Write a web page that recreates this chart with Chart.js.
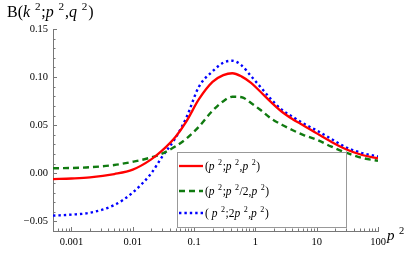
<!DOCTYPE html>
<html lang="en">
<head>
    <meta charset="UTF-8">
    <title>B(k²;p²,q²)</title>
    <script src="https://cdn.jsdelivr.net/npm/chart.js"></script>
    <style>
        body {
            margin: 0;
            padding: 0;
            background: white;
        }
        canvas {
            display: block;
        }
    </style>
</head>
<body>
    <canvas id="bChart" width="407" height="254"></canvas>

    <script>
        // Values
        const p2Values = [0.0005, 0.001, 0.002, 0.005, 0.01, 0.02, 0.03, 0.05, 0.075, 0.12, 0.2, 0.3, 0.42, 0.6, 0.85, 1.2, 1.8, 2.7, 4, 6, 10, 17, 30, 55, 100];
        const redSeries = [-0.006, -0.0054, -0.0043, -0.0008, 0.0038, 0.0145, 0.0235, 0.038, 0.054, 0.077, 0.095, 0.102, 0.104, 0.1005, 0.094, 0.085, 0.074, 0.064, 0.0565, 0.050, 0.0415, 0.033, 0.025, 0.019, 0.0156];
        const greenSeries = [0.0052, 0.0055, 0.0063, 0.0086, 0.012, 0.0165, 0.0205, 0.028, 0.036, 0.0485, 0.065, 0.075, 0.0796, 0.079, 0.073, 0.066, 0.057, 0.0505, 0.045, 0.040, 0.035, 0.028, 0.0215, 0.016, 0.013];
        const blueSeries = [-0.044, -0.043, -0.041, -0.033, -0.020, 0.0, 0.017, 0.037, 0.058, 0.090, 0.106, 0.115, 0.117, 0.112, 0.101, 0.090, 0.077, 0.066, 0.059, 0.052, 0.0445, 0.036, 0.027, 0.021, 0.0175];
        const seriesLabels = ["(p²;p²,p²)", "(p²;p²/2,p²)", "( p²;2p²,p²)"];
        const xTicks = [0.001, 0.01, 0.1, 1, 10, 100];
        const xTickLabels = ["0.001", "0.01", "0.1", "1", "10", "100"];
        const yTicks = [-0.05, 0, 0.05, 0.10, 0.15];
        const yTickLabels = ["\u22120.05", "0.00", "0.05", "0.10", "0.15"];

        const serif = "'Liberation Serif', 'DejaVu Serif', serif";

        function toPoints(ys) {
            return p2Values.map((x, i) => ({ x: x, y: ys[i] }));
        }

        // draws text with italic letters and ² as a raised small 2
        function drawRich(ctx, text, x, y, size) {
            ctx.save();
            ctx.textBaseline = "alphabetic";
            ctx.textAlign = "left";
            ctx.fillStyle = "#000";
            for (const ch of text) {
                if (ch === "²") {
                    x += size * 0.3;
                    ctx.font = (size * 0.7) + "px " + serif;
                    ctx.fillText("2", x, y - size * 0.42);
                    x += ctx.measureText("2").width + size * 0.05;
                } else if (/[a-z]/.test(ch)) {
                    ctx.font = "italic " + size + "px " + serif;
                    ctx.fillText(ch, x, y);
                    x += ctx.measureText(ch).width;
                } else {
                    ctx.font = size + "px " + serif;
                    ctx.fillText(ch, x, y);
                    x += ctx.measureText(ch).width;
                }
            }
            ctx.restore();
        }

        const decorations = {
            id: "decorations",
            afterDatasetsDraw(chart) {
                const ctx = chart.ctx;
                const xs = chart.scales.x;
                const ys = chart.scales.y;
                const area = chart.chartArea;

                // inward tick marks
                ctx.save();
                ctx.strokeStyle = "#777";
                ctx.lineWidth = 1;
                ctx.beginPath();
                for (let e = -4; e <= 2; e++) {
                    for (let m = 1; m <= 9; m++) {
                        const v = m * Math.pow(10, e);
                        if (v < xs.min || v > xs.max * 1.0001) continue;
                        const px = Math.round(xs.getPixelForValue(v)) + 0.5;
                        const len = m === 1 ? 4 : 2.5;
                        ctx.moveTo(px, area.bottom);
                        ctx.lineTo(px, area.bottom - len);
                    }
                }
                for (let k = -5; k <= 15; k++) {
                    const v = k / 100;
                    const py = Math.round(ys.getPixelForValue(v)) + 0.5;
                    const len = k % 5 === 0 ? 4 : 2.5;
                    ctx.moveTo(area.left, py);
                    ctx.lineTo(area.left + len, py);
                }
                ctx.stroke();
                ctx.restore();

                // legend box
                const bx = 177, by = 152, bw = 169, bh = 75;
                ctx.save();
                ctx.fillStyle = "#fff";
                ctx.fillRect(bx, by, bw, bh);
                ctx.strokeStyle = "#999";
                ctx.lineWidth = 1;
                ctx.strokeRect(bx + 0.5, by + 0.5, bw, bh);
                const rows = [166, 191, 213];
                chart.data.datasets.forEach((ds, i) => {
                    ctx.save();
                    ctx.strokeStyle = ds.borderColor;
                    ctx.lineWidth = ds.borderWidth;
                    ctx.setLineDash(ds.borderDash || []);
                    ctx.beginPath();
                    ctx.moveTo(179, rows[i]);
                    ctx.lineTo(203, rows[i]);
                    ctx.stroke();
                    ctx.restore();
                    drawRich(ctx, ds.label, 205, rows[i] + 4, 11.5);
                });
                ctx.restore();

                // title and axis label
                drawRich(ctx, "B(k²;p²,q²)", 7, 17, 16);
                drawRich(ctx, "p²", 387, 240, 15);
            }
        };

        new Chart(document.getElementById("bChart"), {
            type: "line",
            data: {
                datasets: [{
                    label: seriesLabels[0],
                    data: toPoints(redSeries),
                    borderColor: "#ff0000",
                    borderWidth: 2.3
                }, {
                    label: seriesLabels[1],
                    data: toPoints(greenSeries),
                    borderColor: "#107a10",
                    borderWidth: 2.4,
                    borderDash: [6, 4]
                }, {
                    label: seriesLabels[2],
                    data: toPoints(blueSeries),
                    borderColor: "#0000ff",
                    borderWidth: 2.4,
                    borderDash: [2.4, 3]
                }]
            },
            options: {
                responsive: false,
                animation: false,
                devicePixelRatio: 1,
                layout: { padding: { top: 29, right: 29, left: 0, bottom: 0 } },
                elements: {
                    point: { radius: 0 },
                    line: { cubicInterpolationMode: "monotone", fill: false }
                },
                plugins: {
                    legend: { display: false },
                    tooltip: { enabled: false }
                },
                scales: {
                    x: {
                        type: "logarithmic",
                        min: 0.0005,
                        max: 100,
                        afterBuildTicks: scale => { scale.ticks = xTicks.map(v => ({ value: v })); },
                        afterFit: scale => { scale.height = 23; },
                        grid: { drawOnChartArea: false, drawTicks: false },
                        border: { color: "#777", width: 1 },
                        ticks: {
                            padding: 5,
                            color: "#000",
                            font: { family: serif, size: 10.5 },
                            callback: (v, i) => xTickLabels[i]
                        }
                    },
                    y: {
                        min: -0.06,
                        max: 0.15,
                        afterBuildTicks: scale => { scale.ticks = yTicks.map(v => ({ value: v })); },
                        afterFit: scale => { scale.width = 53; },
                        grid: { drawOnChartArea: false, drawTicks: false },
                        border: { color: "#777", width: 1 },
                        ticks: {
                            padding: 5,
                            color: "#000",
                            font: { family: serif, size: 10.5 },
                            callback: (v, i) => yTickLabels[i]
                        }
                    }
                }
            },
            plugins: [decorations]
        });
    </script>
</body>
</html>
